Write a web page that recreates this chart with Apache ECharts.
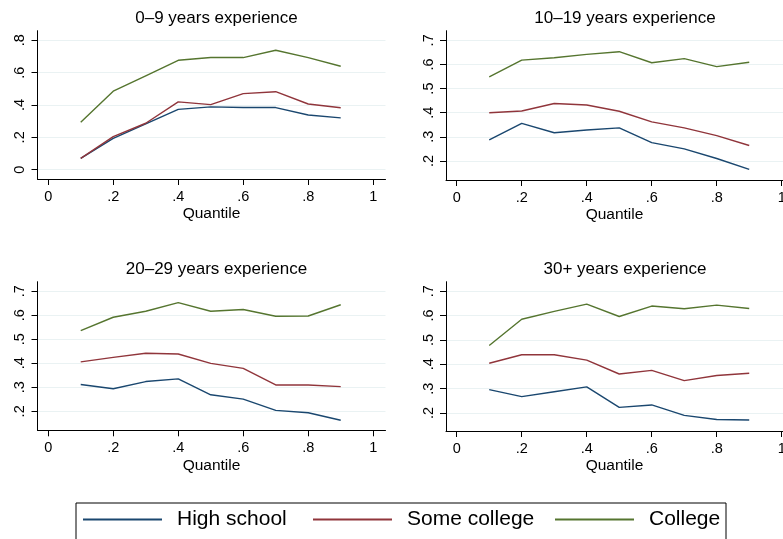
<!DOCTYPE html>
<html>
<head>
<meta charset="utf-8">
<script src="https://cdn.jsdelivr.net/npm/echarts@6/dist/echarts.min.js"></script>
<style>
html,body{margin:0;padding:0;background:#fff;}
#chart{width:783px;height:539px;}
</style>
</head>
<body>
<div id="chart"></div>
<script>
const quantiles = [0.1, 0.2, 0.3, 0.4, 0.5, 0.6, 0.7, 0.8, 0.9];
const seriesNames = ['High school', 'Some college', 'College'];
const panelTitles = ['0\u20139 years experience', '10\u201319 years experience', '20\u201329 years experience', '30+ years experience'];
const xTicks = [0, 0.2, 0.4, 0.6, 0.8, 1];
const yTicksP1 = [0, 0.2, 0.4, 0.6, 0.8];
const yTicksOther = [0.2, 0.3, 0.4, 0.5, 0.6, 0.7];

// Panel 1: 0-9 years
const p1HighSchool = [0.070, 0.194, 0.283, 0.373, 0.388, 0.384, 0.384, 0.338, 0.320];
const p1SomeCollege = [0.070, 0.204, 0.287, 0.419, 0.402, 0.470, 0.482, 0.406, 0.383];
const p1College = [0.293, 0.485, 0.580, 0.676, 0.693, 0.693, 0.738, 0.693, 0.639];
// Panel 2: 10-19 years
const p2HighSchool = [0.287, 0.356, 0.317, 0.328, 0.337, 0.276, 0.250, 0.210, 0.165];
const p2SomeCollege = [0.400, 0.407, 0.438, 0.432, 0.406, 0.362, 0.337, 0.305, 0.264];
const p2College = [0.549, 0.618, 0.628, 0.642, 0.653, 0.607, 0.624, 0.591, 0.609];
// Panel 3: 20-29 years
const p3HighSchool = [0.312, 0.294, 0.324, 0.335, 0.269, 0.251, 0.204, 0.194, 0.163];
const p3SomeCollege = [0.406, 0.425, 0.442, 0.439, 0.400, 0.379, 0.310, 0.310, 0.303];
const p3College = [0.536, 0.592, 0.617, 0.653, 0.617, 0.624, 0.596, 0.597, 0.644];
// Panel 4: 30+ years
const p4HighSchool = [0.296, 0.267, 0.287, 0.307, 0.223, 0.233, 0.190, 0.173, 0.171];
const p4SomeCollege = [0.404, 0.439, 0.439, 0.417, 0.360, 0.375, 0.333, 0.354, 0.363];
const p4College = [0.477, 0.585, 0.617, 0.647, 0.596, 0.639, 0.628, 0.643, 0.629];

const panels = [
  [p1HighSchool, p1SomeCollege, p1College],
  [p2HighSchool, p2SomeCollege, p2College],
  [p3HighSchool, p3SomeCollege, p3College],
  [p4HighSchool, p4SomeCollege, p4College]
];
const colors = ['#1a476f', '#90353b', '#55752f'];
const FONT = 'Liberation Sans, Arial, Helvetica, sans-serif';

// px per x unit is 325 in every panel; right panels are cut by the canvas edge
const PX_PER_UNIT = 325;
const grids = [
  {left: 37.5, top: 30.7, width: 348, height: 148.3, outerBoundsMode: 'none', containLabel: false},
  {left: 446, top: 30.7, width: 337, height: 149.3, outerBoundsMode: 'none', containLabel: false},
  {left: 37.5, top: 281.7, width: 348, height: 148.6, outerBoundsMode: 'none', containLabel: false},
  {left: 446, top: 281.7, width: 337, height: 149.3, outerBoundsMode: 'none', containLabel: false}
];
const yRanges = [[-0.0575, 0.859], [0.121, 0.740], [0.121, 0.740], [0.126, 0.739]];
const titlePos = [[211.5, 5], [620, 5], [211.5, 255.5], [620, 255.5]];
const xMin = -0.033;
const legendLefts = [83, 313, 555];

function fmt(v) {
  const s = String(Math.round(v * 10) / 10);
  return s.replace(/^0\./, '.');
}

const option = {
  animation: false,
  backgroundColor: '#ffffff',
  textStyle: {fontFamily: FONT},
  title: panelTitles.map((t, i) => ({
    text: t, left: titlePos[i][0], top: titlePos[i][1], textAlign: 'center',
    textStyle: {fontFamily: FONT, fontSize: 17, fontWeight: 'normal', color: '#000'}
  })),
  grid: grids,
  xAxis: grids.map((g, i) => ({
    type: 'value', gridIndex: i, min: xMin, max: xMin + g.width / PX_PER_UNIT,
    name: 'Quantile', nameLocation: 'middle', nameGap: 27,
    nameTextStyle: {fontFamily: FONT, fontSize: 15.5, color: '#000'},
    axisLine: {onZero: false, lineStyle: {color: '#000', width: 1}},
    axisTick: {show: true, length: 6, customValues: xTicks, lineStyle: {color: '#000'}},
    axisLabel: {customValues: xTicks, formatter: fmt, fontSize: 14.5, color: '#000', margin: 10, fontFamily: FONT, hideOverlap: false},
    splitLine: {show: false}
  })),
  yAxis: grids.map((g, i) => {
    const ticks = i === 0 ? yTicksP1 : yTicksOther;
    return {
      type: 'value', gridIndex: i, min: yRanges[i][0], max: yRanges[i][1],
      axisLine: {show: true, onZero: false, lineStyle: {color: '#000', width: 1}},
      axisTick: {show: true, length: 6, customValues: ticks, lineStyle: {color: '#000'}},
      axisLabel: {customValues: ticks, formatter: fmt, rotate: 90, fontSize: 14.5, color: '#000', margin: 10, fontFamily: FONT},
      splitLine: {show: true, lineStyle: {color: '#eaf2f3', width: 1}}
    };
  }),
  legend: seriesNames.map((n, i) => ({
    left: legendLefts[i], top: 509, orient: 'horizontal', padding: 0,
    itemWidth: 79, itemHeight: 2, icon: 'rect',
    textStyle: {fontFamily: FONT, fontSize: 21, color: '#000', padding: [0, 0, 0, 10]},
    data: [n]
  })),
  graphic: [{
    type: 'rect', left: 73.5, top: 500.5, silent: true,
    shape: {width: 650, height: 60},
    style: {fill: 'none', stroke: '#000', lineWidth: 1}
  }],
  series: []
};

panels.forEach((panel, pi) => {
  panel.forEach((vals, si) => {
    option.series.push({
      type: 'line', name: seriesNames[si], xAxisIndex: pi, yAxisIndex: pi,
      data: quantiles.map((q, k) => [q, vals[k]]),
      symbol: 'none', showSymbol: false,
      lineStyle: {color: colors[si], width: 1.4},
      itemStyle: {color: colors[si]}
    });
  });
});

const chart = echarts.init(document.getElementById('chart'), null, {renderer: 'canvas'});
chart.setOption(option);
</script>
</body>
</html>
